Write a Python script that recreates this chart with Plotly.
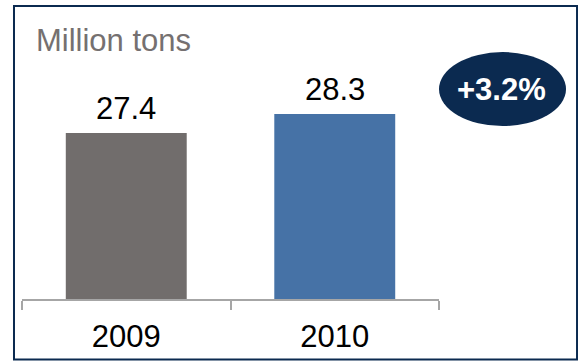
import plotly.graph_objects as go

years = ["2009", "2010"]
values = [27.4, 28.3]
bar_colors = ["#716D6C", "#4672A6"]
unit_label = "Million tons"
growth_label = "+3.2%"

FONT = "Liberation Sans, Arial, sans-serif"

fig = go.Figure()
fig.add_trace(go.Bar(
    x=years, y=values, marker=dict(color=bar_colors, line=dict(width=0)),
    width=0.58, hoverinfo="skip",
))

for i, v in enumerate(values):
    fig.add_annotation(x=i, y=v, text=f"{v:.1f}", showarrow=False,
                       yanchor="middle", yshift=24,
                       font=dict(family=FONT, size=31, color="#000000"))

fig.add_annotation(xref="paper", yref="paper", x=0.0288, y=0.928,
                   xanchor="left", yanchor="middle", text=unit_label,
                   showarrow=False, font=dict(family=FONT, size=31, color="#757070"))

# ellipse badge
fig.add_shape(type="circle", xref="paper", yref="paper",
              x0=1.0, x1=1.3046, y0=0.620, y1=0.885,
              fillcolor="#0B2A50", line=dict(width=0))
fig.add_annotation(xref="paper", yref="paper", x=1.151, y=0.75,
                   xanchor="center", yanchor="middle", text=f"<b>{growth_label}</b>",
                   showarrow=False, font=dict(family=FONT, size=31, color="#FFFFFF"))

# outer frame
fig.add_shape(type="rect", xref="paper", yref="paper",
              x0=-0.0192, x1=1.331, y0=-0.2168, y1=1.050,
              line=dict(color="#0B2A50", width=2), fillcolor="rgba(0,0,0,0)")

fig.update_layout(
    width=578, height=361,
    margin=dict(l=22, r=139, t=20, b=62, autoexpand=False),
    paper_bgcolor="#FFFFFF", plot_bgcolor="#FFFFFF",
    showlegend=False,
    xaxis=dict(type="category", range=[-0.5, 1.5], showline=True, automargin=False,
               linecolor="#A6A6A6", linewidth=1.5, ticks="outside",
               tickson="boundaries", ticklen=9, tickcolor="#A6A6A6", tickwidth=1.5,
               ticklabelstandoff=9,
               showgrid=False, zeroline=False,
               tickfont=dict(family=FONT, size=31, color="#000000")),
    yaxis=dict(range=[19.537, 32.75], visible=False, showgrid=False, zeroline=False),
)

fig.write_html("out.html")
